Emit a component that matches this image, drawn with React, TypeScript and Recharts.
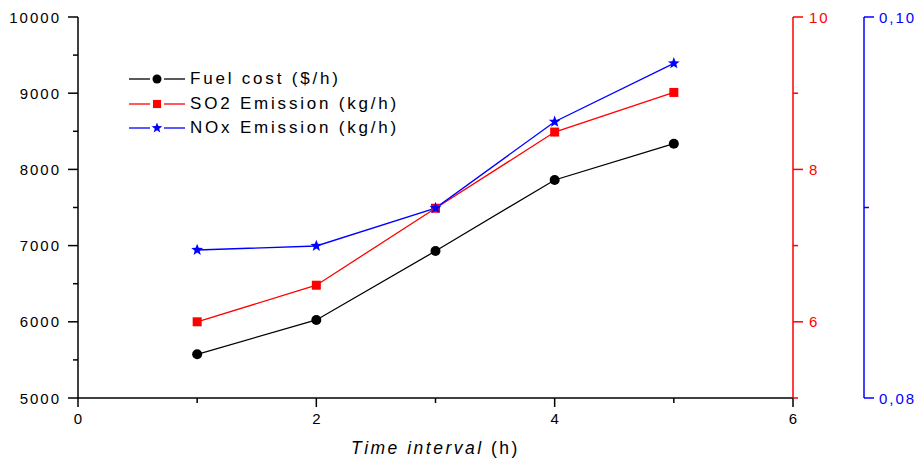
import React from 'react';
import { LineChart, Line, XAxis, YAxis, Legend } from 'recharts';

const timeIntervals = [1, 2, 3, 4, 5];
const fuelCost = [5573, 6024, 6929, 7861, 8337];
const so2Emission = [6.0, 6.48, 7.49, 8.49, 9.01];
const noxEmission = [0.08777, 0.08798, 0.08997, 0.0945, 0.09757];

const xTicks = [0, 1, 2, 3, 4, 5, 6];
const xLabeled = [0, 2, 4, 6];
const costTicks = [5000, 5500, 6000, 6500, 7000, 7500, 8000, 8500, 9000, 9500, 10000];
const costLabeled = [5000, 6000, 7000, 8000, 9000, 10000];
const so2Ticks = [5, 6, 7, 8, 9, 10];
const so2Labeled = [6, 8, 10];
const noxTicks = [0.08, 0.09, 0.1];
const noxLabeled = [0.08, 0.1];

const seriesNames = ['Fuel cost ($/h)', 'SO2 Emission (kg/h)', 'NOx Emission (kg/h)'];
const xTitleItalic = 'Time interval';
const xTitleRest = ' (h)';

const data = timeIntervals.map((t, i) => ({
  t,
  cost: fuelCost[i],
  so2: so2Emission[i],
  nox: noxEmission[i],
}));

const FONT = '"Liberation Sans", Arial, sans-serif';
const BLACK = '#000000';
const RED = '#ff0000';
const BLUE = '#0000ff';

const isIn = (arr: number[], v: number) => arr.some((a) => Math.abs(a - v) < 1e-9);

function LeftTick(props: any) {
  const { x, y, payload } = props;
  const v = payload.value;
  const major = isIn(costLabeled, v);
  return (
    <g>
      <line x1={x} x2={x - (major ? 10 : 5)} y1={y} y2={y} stroke={BLACK} strokeWidth={1.5} />
      {major && (
        <text x={x - 17} y={y} textAnchor="end" dominantBaseline="central" fontFamily={FONT} fontSize={15} letterSpacing={2} fill={BLACK}>
          {v}
        </text>
      )}
    </g>
  );
}

function RedTick(props: any) {
  const { x, y, payload } = props;
  const v = payload.value;
  const major = isIn(so2Labeled, v);
  return (
    <g>
      <line x1={x} x2={x + (major ? 10 : 5)} y1={y} y2={y} stroke={RED} strokeWidth={1.5} />
      {major && (
        <text x={x + 16} y={y} textAnchor="start" dominantBaseline="central" fontFamily={FONT} fontSize={15} letterSpacing={2} fill={RED}>
          {v}
        </text>
      )}
    </g>
  );
}

function BlueTick(props: any) {
  const { x, y, payload } = props;
  const v = payload.value;
  const major = isIn(noxLabeled, v);
  return (
    <g>
      <line x1={x} x2={x + (major ? 10 : 5)} y1={y} y2={y} stroke={BLUE} strokeWidth={1.5} />
      {major && (
        <text x={x + 15} y={y} textAnchor="start" dominantBaseline="central" fontFamily={FONT} fontSize={15} letterSpacing={2} fill={BLUE}>
          {v.toFixed(2).replace('.', ',')}
        </text>
      )}
    </g>
  );
}

function BottomTick(props: any) {
  const { x, y, payload } = props;
  const v = payload.value;
  const major = isIn(xLabeled, v);
  return (
    <g>
      <line x1={x} x2={x} y1={y} y2={y + (major ? 9 : 5)} stroke={BLACK} strokeWidth={1.5} />
      {major && (
        <text x={x} y={y + 26} textAnchor="middle" fontFamily={FONT} fontSize={15} fill={BLACK}>
          {v}
        </text>
      )}
    </g>
  );
}

function XTitle(props: any) {
  const vb = props.viewBox || { x: 0, y: 0, width: 0, height: 0 };
  return (
    <text x={vb.x + vb.width / 2} y={vb.y + 56} textAnchor="middle" fontFamily={FONT} fontSize={17.5} letterSpacing={2.5} fill={BLACK}>
      <tspan fontStyle="italic">{xTitleItalic}</tspan>
      <tspan>{xTitleRest}</tspan>
    </text>
  );
}

function starPath(cx: number, cy: number, R: number) {
  const r = R * 0.42;
  const pts: string[] = [];
  for (let i = 0; i < 10; i++) {
    const rad = i % 2 === 0 ? R : r;
    const a = -Math.PI / 2 + (i * Math.PI) / 5;
    pts.push(`${(cx + rad * Math.cos(a)).toFixed(2)},${(cy + rad * Math.sin(a)).toFixed(2)}`);
  }
  return 'M' + pts.join('L') + 'Z';
}

function Marker({ kind, cx, cy, scale = 1 }: { kind: string; cx: number; cy: number; scale?: number }) {
  if (kind === 'cost') return <circle cx={cx} cy={cy} r={5 * scale} fill={BLACK} />;
  if (kind === 'so2') {
    const s = 9 * scale;
    return <rect x={cx - s / 2} y={cy - s / 2} width={s} height={s} fill={RED} />;
  }
  return <path d={starPath(cx, cy, 6.2 * scale)} fill={BLUE} />;
}

const makeDot = (kind: string) => (p: any) => (
  <Marker key={`${kind}-${p.index}`} kind={kind} cx={p.cx} cy={p.cy} />
);

const seriesKinds = ['cost', 'so2', 'nox'];
const seriesColors = [BLACK, RED, BLUE];

function LegendContent() {
  return (
    <div style={{ fontFamily: FONT, fontSize: 17, letterSpacing: 2.8, color: BLACK }}>
      {seriesNames.map((name, i) => (
        <div key={name} style={{ display: 'flex', alignItems: 'center', height: 24.5, whiteSpace: 'nowrap' }}>
          <svg width={56} height={16} style={{ display: 'block' }}>
            <line x1={0} x2={21} y1={8} y2={8} stroke={seriesColors[i]} strokeWidth={1.3} />
            <line x1={35} x2={56} y1={8} y2={8} stroke={seriesColors[i]} strokeWidth={1.3} />
            <Marker kind={seriesKinds[i]} cx={28} cy={8} scale={0.9} />
          </svg>
          <span style={{ marginLeft: 5, lineHeight: '20px' }}>{name}</span>
        </div>
      ))}
    </div>
  );
}

export default function App() {
  return (
    <div style={{ width: 916, height: 464, overflow: 'hidden' }}>
      <style>{'html,body{margin:0;padding:0;overflow:hidden}'}</style>
      <LineChart width={916} height={464} data={data} margin={{ top: 17, right: 0, bottom: 16, left: 0 }}>
        <XAxis
          dataKey="t"
          type="number"
          domain={[0, 6]}
          ticks={xTicks}
          interval={0}
          height={50}
          tickSize={0}
          tickMargin={0}
          tickLine={false}
          axisLine={{ stroke: BLACK, strokeWidth: 1.5 }}
          tick={<BottomTick />}
          label={(p: any) => <XTitle {...p} />}
        />
        <YAxis
          yAxisId="axisL"
          orientation="left"
          width={78}
          domain={[5000, 10000]}
          ticks={costTicks}
          interval={0}
          tickSize={0}
          tickMargin={0}
          tickLine={false}
          axisLine={{ stroke: BLACK, strokeWidth: 1.5 }}
          tick={<LeftTick />}
        />
        <YAxis
          yAxisId="axisR1"
          orientation="right"
          width={71}
          domain={[5, 10]}
          ticks={so2Ticks}
          interval={0}
          tickSize={0}
          tickMargin={0}
          tickLine={false}
          axisLine={{ stroke: RED, strokeWidth: 1.5 }}
          tick={<RedTick />}
        />
        <YAxis
          yAxisId="axisR2"
          orientation="right"
          width={52}
          domain={[0.08, 0.1]}
          ticks={noxTicks}
          interval={0}
          tickSize={0}
          tickMargin={0}
          tickLine={false}
          axisLine={{ stroke: BLUE, strokeWidth: 1.5 }}
          tick={<BlueTick />}
        />
        <Legend
          layout="vertical"
          align="center"
          verticalAlign="middle"
          content={() => <LegendContent />}
          wrapperStyle={{ position: 'absolute', left: 129, top: 67, width: 'auto', height: 'auto' }}
        />
        <Line yAxisId="axisL" dataKey="cost" name={seriesNames[0]} stroke={BLACK} strokeWidth={1.3} dot={makeDot('cost')} activeDot={false} isAnimationActive={false} />
        <Line yAxisId="axisR1" dataKey="so2" name={seriesNames[1]} stroke={RED} strokeWidth={1.3} dot={makeDot('so2')} activeDot={false} isAnimationActive={false} />
        <Line yAxisId="axisR2" dataKey="nox" name={seriesNames[2]} stroke={BLUE} strokeWidth={1.3} dot={makeDot('nox')} activeDot={false} isAnimationActive={false} />
      </LineChart>
    </div>
  );
}
